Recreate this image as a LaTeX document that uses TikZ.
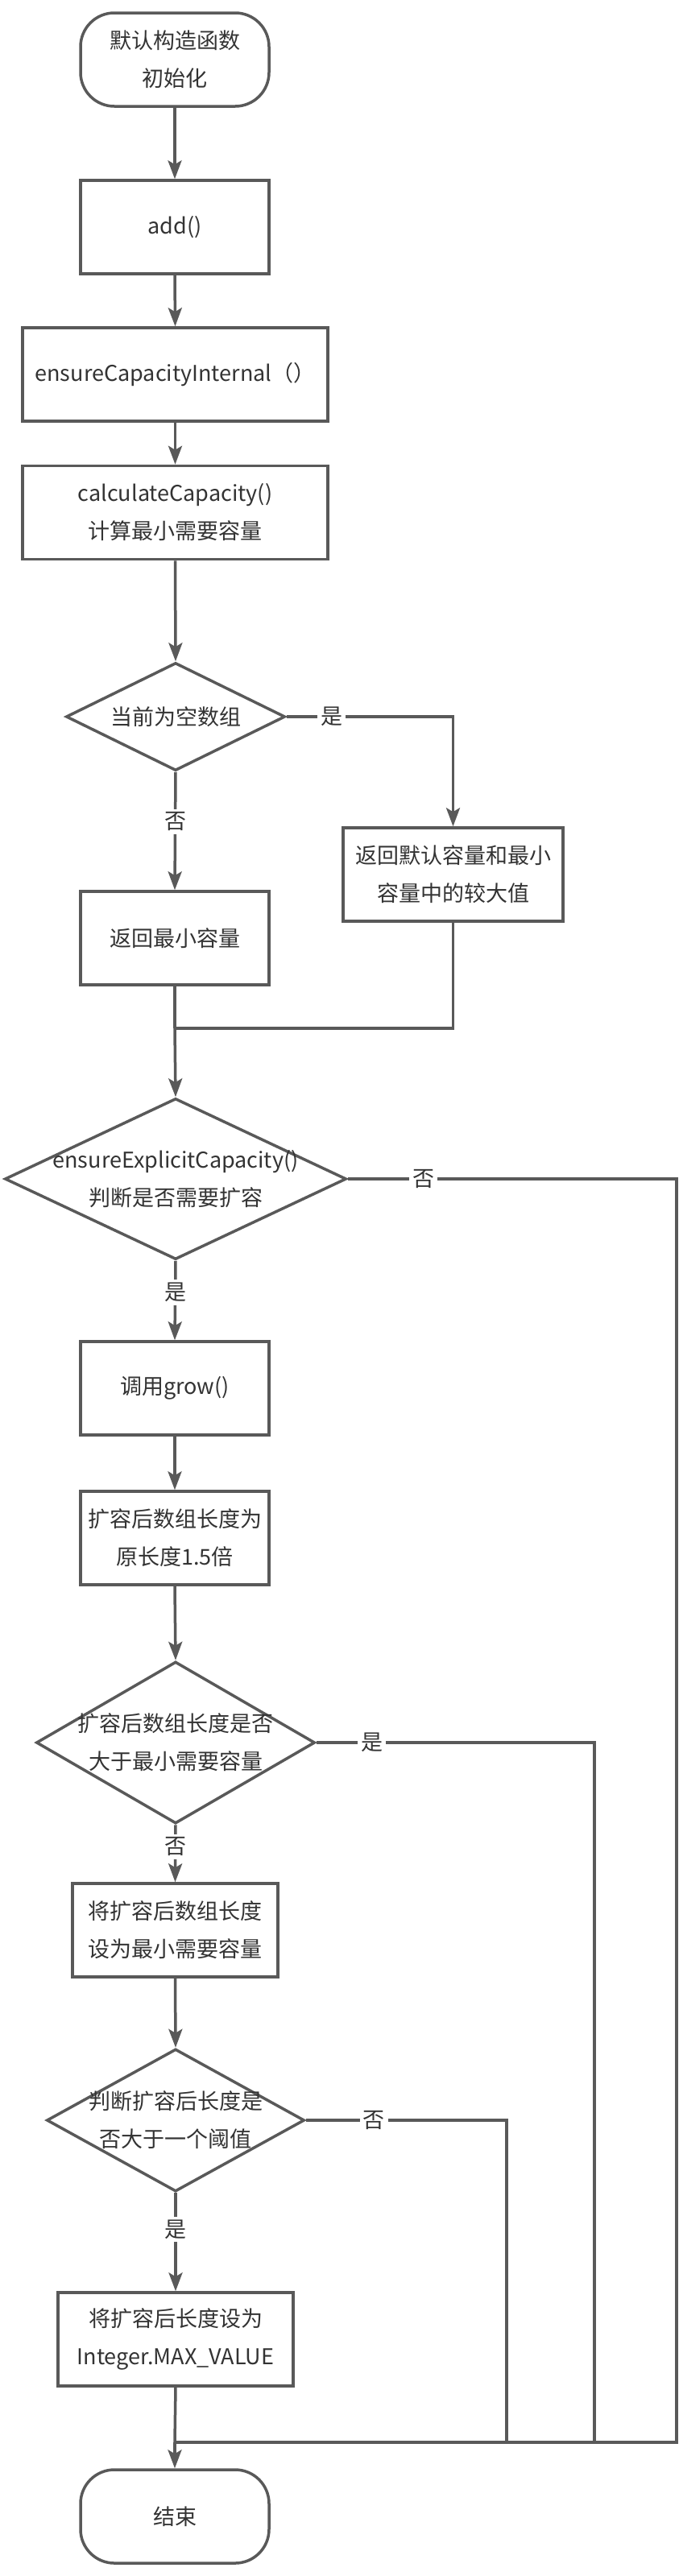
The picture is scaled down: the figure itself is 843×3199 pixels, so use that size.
\documentclass[tikz,border=0pt]{standalone}
\usepackage{fontspec}
\setmainfont{Noto Sans CJK SC}
\usetikzlibrary{arrows.meta,shapes.geometric}
\definecolor{ln}{HTML}{595959}
\definecolor{tx}{HTML}{333333}
\tikzset{
  base/.style={draw=ln, line width=3.5pt, text=tx, align=center, inner sep=0pt,
    font=\fontsize{27}{47}\selectfont},
  box/.style={base, rectangle, minimum height=116pt},
  term/.style={base, rectangle, rounded corners=42pt, minimum width=234pt, minimum height=116pt},
  diam/.style={draw=ln, line width=3.5pt, diamond, inner sep=0pt},
  dtext/.style={text=tx, align=center, font=\fontsize{27}{47}\selectfont},
  lab/.style={fill=white, text=tx, inner sep=4pt, font=\fontsize{27}{30}\selectfont},
  conn/.style={draw=ln, line width=3.5pt},
  arr/.style={conn, -{Stealth[length=23pt,width=17pt,inset=5pt]}}
}
\begin{document}
\begin{tikzpicture}[x=1pt,y=-1pt]
\useasboundingbox[fill=white] (0,0) rectangle (843,3199);
\node[term] (start) at (217,74) {默认构造函数\\初始化};
\node[box, minimum width=234pt] (add) at (217,282) {add()};
\node[box, minimum width=379pt] (eci) at (217.5,465) {ensureCapacityInternal（）};
\node[box, minimum width=379pt] (calc) at (217.5,636.5) {calculateCapacity()\\计算最小需要容量};
\node[diam, minimum width=272pt, minimum height=134pt] (d1) at (218,890) {};
\node[dtext] at (d1) {当前为空数组};
\node[box, minimum width=273pt] (yesbox) at (562.5,1086) {返回默认容量和最小\\容量中的较大值};
\node[box, minimum width=234pt] (nobox) at (217,1165) {返回最小容量};
\node[diam, minimum width=424pt, minimum height=200pt] (d2) at (218,1464) {};
\node[dtext] at (d2) {ensureExplicitCapacity()\\判断是否需要扩容};
\node[box, minimum width=234pt] (grow) at (217,1724) {调用grow()};
\node[box, minimum width=234pt] (ext) at (217,1910) {扩容后数组长度为\\原长度1.5倍};
\node[diam, minimum width=346pt, minimum height=201pt] (d3) at (218,2164) {};
\node[dtext] at (d3) {扩容后数组长度是否\\大于最小需要容量};
\node[box, minimum width=255pt] (setmin) at (217.5,2397) {将扩容后数组长度\\设为最小需要容量};
\node[diam, minimum width=320pt, minimum height=177pt] (d4) at (218,2633) {};
\node[dtext] at (d4) {判断扩容后长度是\\否大于一个阈值};
\node[box, minimum width=292pt] (setmax) at (218,2905) {将扩容后长度设为\\Integer.MAX\_VALUE};
\node[term] (end) at (217,3125) {结束};

\coordinate (m1) at (217,1277);
\coordinate (m2) at (217,3033);
\coordinate (r1) at (840,3033);
\coordinate (r2) at (738,3033);
\coordinate (r3) at (629,3033);

\draw[arr] (start.south) -- (add.north);
\draw[arr] (add.south) -- (eci.north);
\draw[arr] (eci.south) -- (calc.north);
\draw[arr] (calc.south) -- (d1.north);
\draw[arr] (d1.east) -- node[lab, pos=0.27]{是} (d1.east -| yesbox.north) -- (yesbox.north);
\draw[arr] (d1.south) -- node[lab, pos=0.42]{否} (nobox.north);
\draw[conn] (nobox.south) -- (m1);
\draw[conn] (yesbox.south) -- (yesbox.south |- m1) -- (m1);
\draw[arr] (m1) -- (d2.north);
\draw[conn] (d2.east) -- node[lab, pos=0.23]{否} (d2.east -| r1) -- (r1) -- (m2);
\draw[arr] (d2.south) -- node[lab, pos=0.4]{是} (grow.north);
\draw[arr] (grow.south) -- (ext.north);
\draw[arr] (ext.south) -- (d3.north);
\draw[conn] (d3.east) -- node[lab, pos=0.2]{是} (d3.east -| r2) -- (r2);
\draw[arr] (d3.south) -- node[lab, pos=0.38]{否} (setmin.north);
\draw[arr] (setmin.south) -- (d4.north);
\draw[conn] (d4.east) -- node[lab, pos=0.34]{否} (d4.east -| r3) -- (r3);
\draw[arr] (d4.south) -- node[lab, pos=0.37]{是} (setmax.north);
\draw[conn] (setmax.south) -- (m2);
\draw[arr] (m2) -- (end.north);
\end{tikzpicture}
\end{document}
